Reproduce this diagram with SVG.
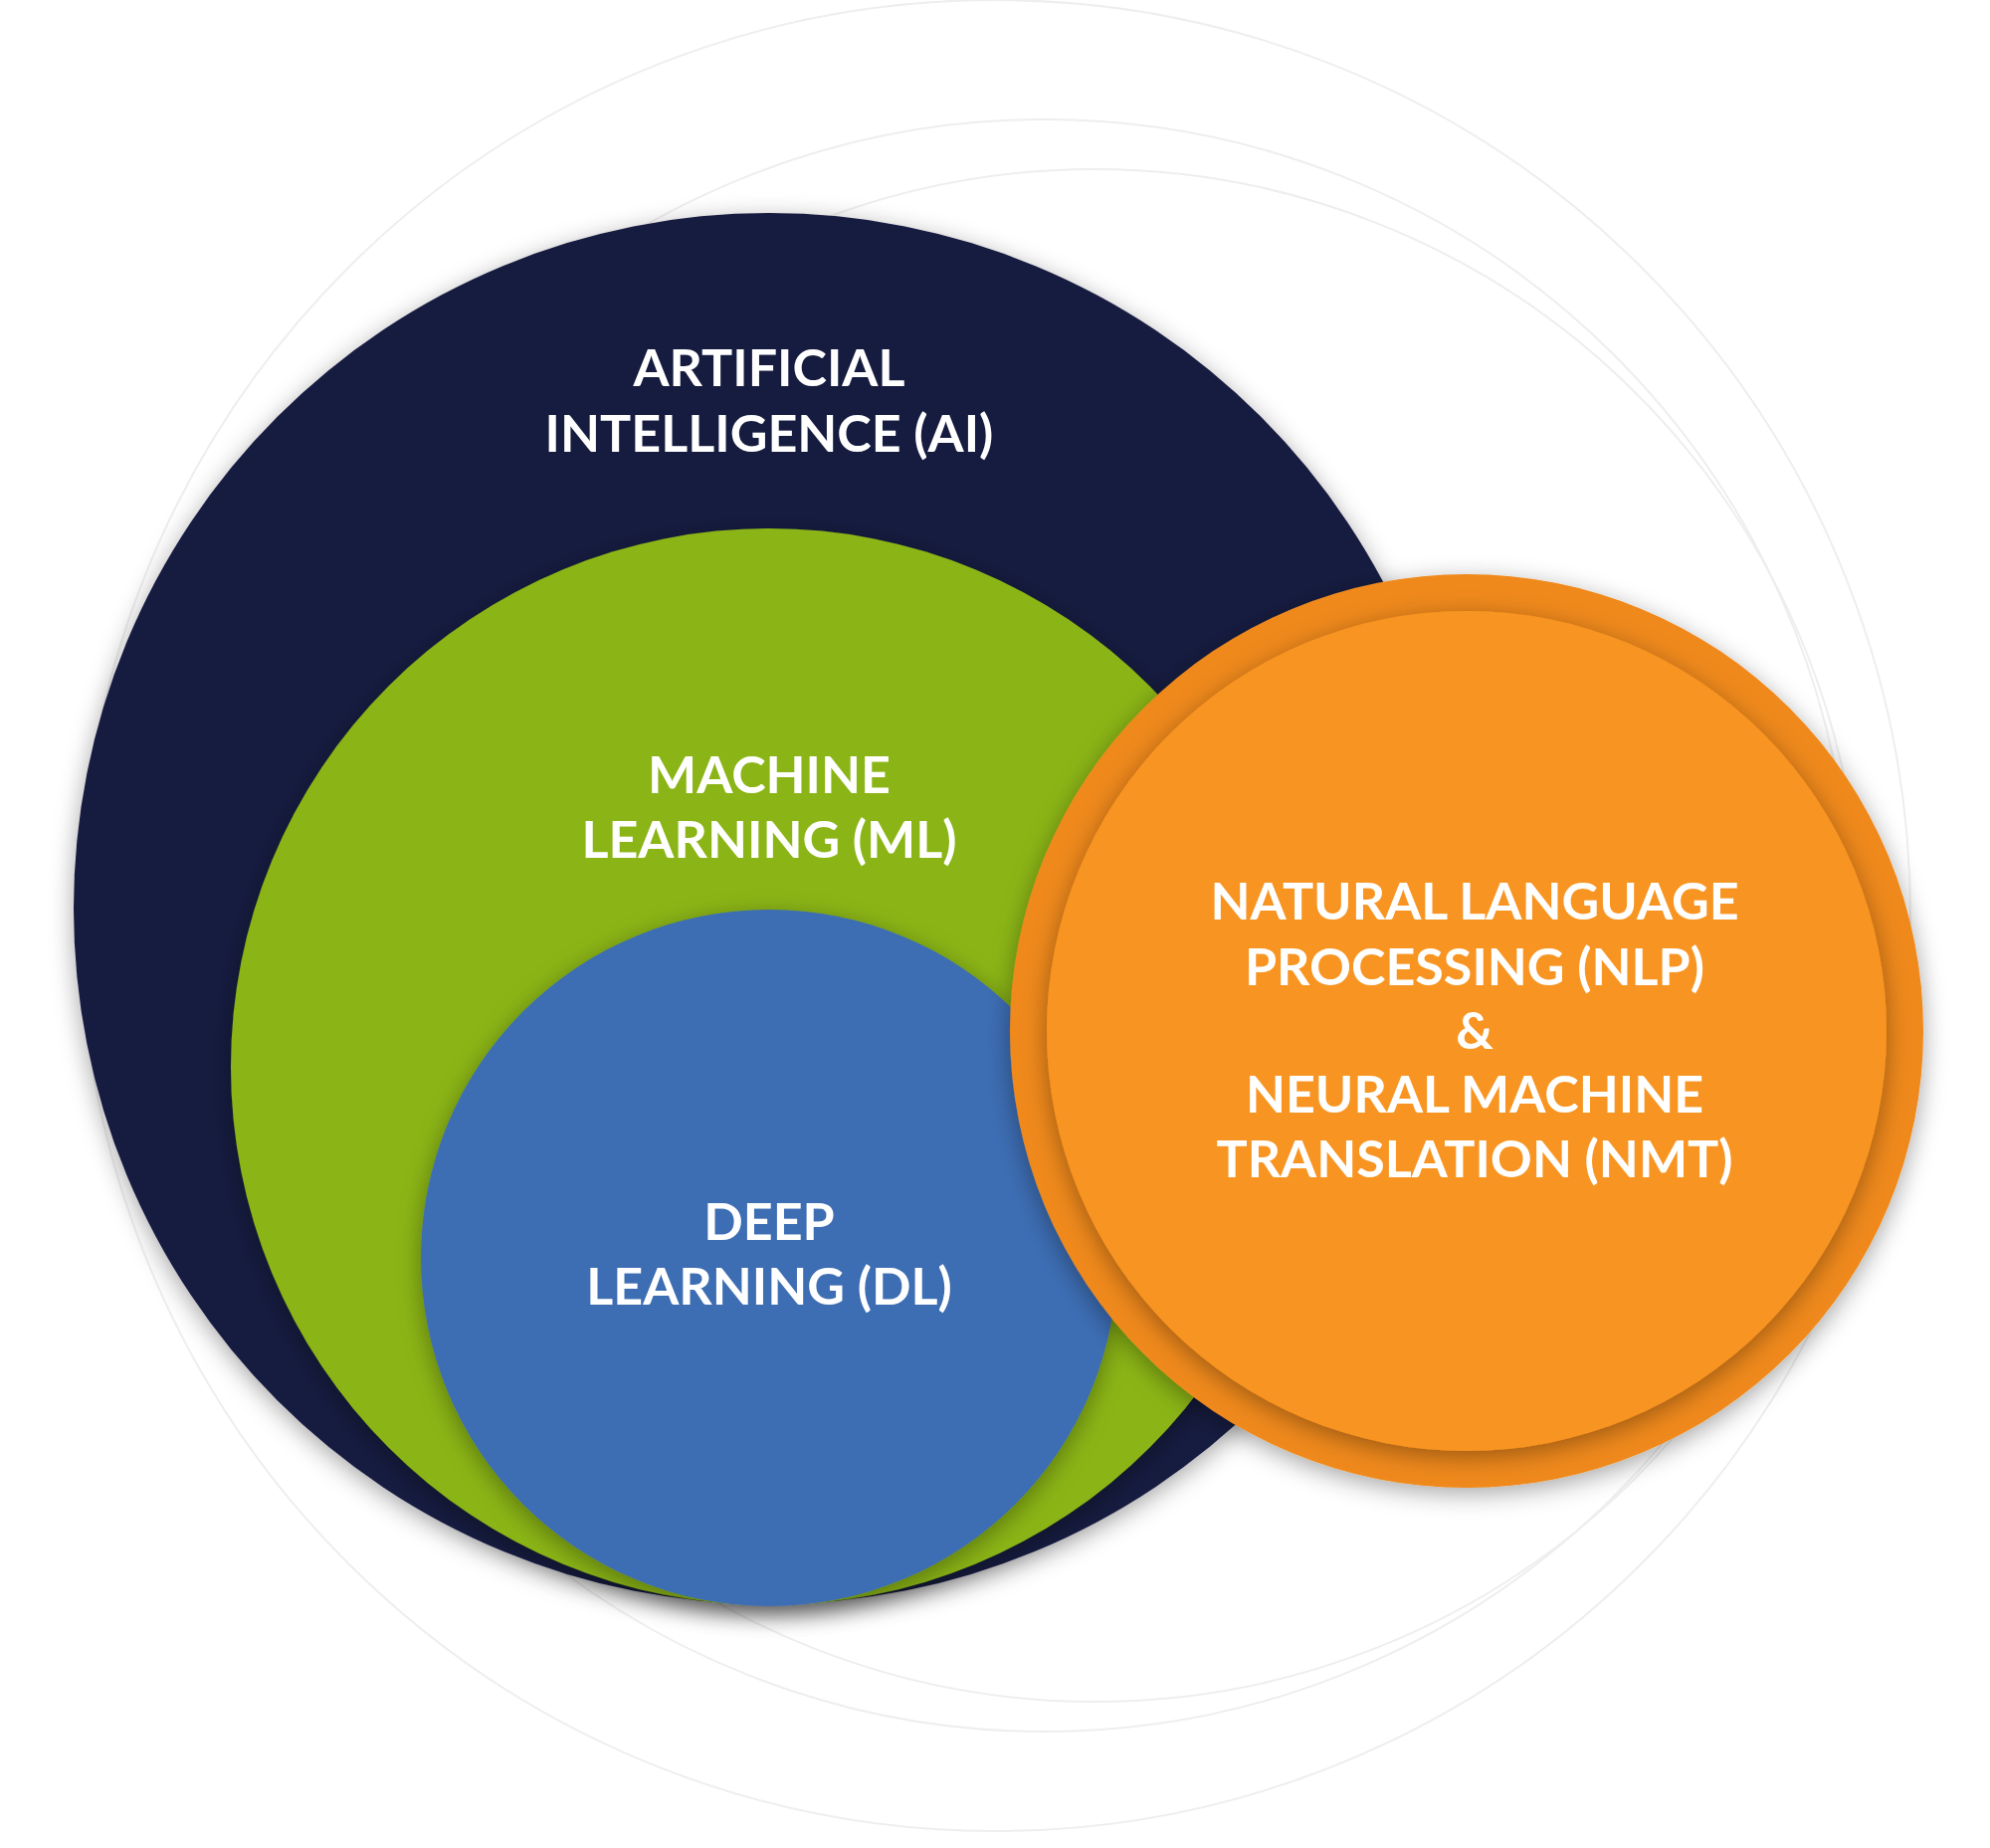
<svg xmlns="http://www.w3.org/2000/svg" width="2000" height="1857" viewBox="0 0 2000 1857">
<defs>
<filter id="sh" x="-20%" y="-20%" width="140%" height="140%"><feDropShadow dx="0" dy="6" stdDeviation="12" flood-color="#000" flood-opacity="0.35"/></filter>
<style>
.t{font-family:Lato,"Open Sans","Liberation Sans",sans-serif;font-weight:bold;font-size:52px;fill:#fff;text-anchor:middle}
.ring{fill:none;stroke:#eeeeee;stroke-width:2}
</style>
</defs>
<rect width="2000" height="1857" fill="#fff"/>
<g id="bg">
<circle class="ring" cx="1000" cy="920" r="920"/>
<circle class="ring" cx="1050" cy="930" r="810"/>
<circle class="ring" cx="1100" cy="940" r="770"/>
</g>
<g id="ai"><circle cx="773" cy="913" r="699" fill="#181a40" filter="url(#sh)"/>
<text class="t" x="773" y="388">ARTIFICIAL</text><text class="t" x="773" y="454">INTELLIGENCE (AI)</text></g>
<g id="ml"><circle cx="773" cy="1072" r="541" fill="#8bb514" filter="url(#sh)"/>
<text class="t" x="773" y="797">MACHINE</text><text class="t" x="773" y="862">LEARNING (ML)</text></g>
<g id="dl"><circle cx="773" cy="1264" r="350" fill="#3d6db3" filter="url(#sh)"/>
<text class="t" x="773" y="1246">DEEP</text><text class="t" x="773" y="1311">LEARNING (DL)</text></g>
<g id="nlp"><circle cx="1474" cy="1036" r="459" fill="#ef891c" filter="url(#sh)"/>
<circle cx="1474" cy="1036" r="422" fill="#f89522" filter="url(#sh)"/>
<text class="t" x="1482" y="924">NATURAL LANGUAGE</text><text class="t" x="1482" y="990">PROCESSING  (NLP)</text><text class="t" x="1482" y="1054">&amp;</text><text class="t" x="1482" y="1118">NEURAL MACHINE</text><text class="t" x="1482" y="1183">TRANSLATION (NMT)</text></g>
<g id="connectors"/>
</svg>
